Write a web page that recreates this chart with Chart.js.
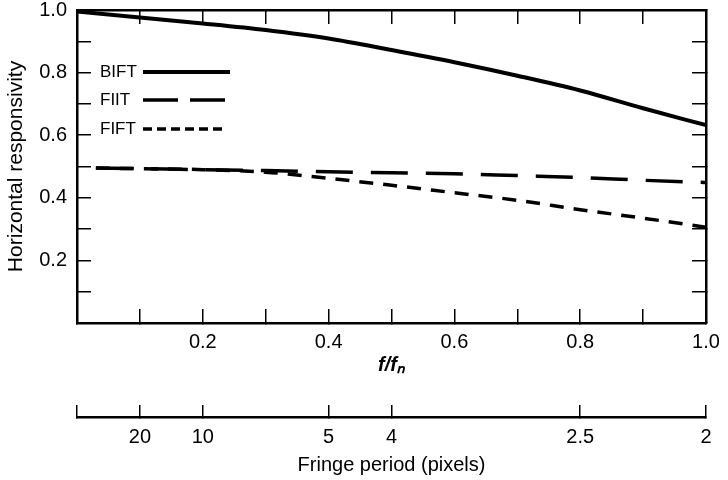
<!DOCTYPE html>
<html>
<head>
<meta charset="utf-8">
<script src="https://cdn.jsdelivr.net/npm/chart.js@4.4.1/dist/chart.umd.min.js"></script>
<style>
  html, body { margin: 0; padding: 0; background: #fff; }
  #wrap { width: 728px; height: 480px; }
</style>
</head>
<body>
<div id="wrap"><canvas id="chart" width="728" height="480"></canvas></div>
<script>
// f/fn values for each curve
const freq = [0, 0.1, 0.2, 0.3, 0.4, 0.5, 0.6, 0.7, 0.8, 0.9, 1.0];
const freqDashed = [0.03, 0.1, 0.2, 0.3, 0.4, 0.5, 0.6, 0.7, 0.8, 0.9, 1.0];

// responsivity
const bift = [0.995, 0.976, 0.957, 0.936, 0.909, 0.872, 0.833, 0.790, 0.743, 0.686, 0.632];
const fiit = [0.495, 0.493, 0.490, 0.487, 0.483, 0.480, 0.477, 0.471, 0.465, 0.456, 0.449];
const fift = [0.495, 0.493, 0.490, 0.482, 0.462, 0.440, 0.416, 0.392, 0.362, 0.335, 0.306];

const seriesLabels = ['BIFT', 'FIIT', 'FIFT'];
const xTickLabels = ['0.2', '0.4', '0.6', '0.8', '1.0'];
const yTickLabels = ['0.2', '0.4', '0.6', '0.8', '1.0'];
const fringePeriods = [20, 10, 5, 4, 2.5, 2];

const FONT = "'Liberation Sans', Arial, Helvetica, sans-serif";
Chart.defaults.font.family = FONT;
Chart.defaults.color = '#000';

function toXY(xs, ys) {
  return xs.map((x, i) => ({ x: x, y: ys[i] }));
}

// text on the left, line sample on the right, inside the plot
const inlineLegend = {
  id: 'inlineLegend',
  afterDatasetsDraw(chart) {
    const ctx = chart.ctx;
    const rows = [72, 100, 129];
    ctx.save();
    ctx.font = '17px ' + FONT;
    ctx.fillStyle = '#000';
    ctx.textBaseline = 'middle';
    chart.data.datasets.forEach((ds, i) => {
      const y = rows[i];
      ctx.fillText(ds.label, 100, y);
      ctx.beginPath();
      ctx.setLineDash(ds.legendDash || []);
      ctx.lineWidth = ds.borderWidth;
      ctx.strokeStyle = '#000';
      ctx.moveTo(143, y);
      ctx.lineTo(i === 2 ? 222 : 230, y);
      ctx.stroke();
    });
    ctx.restore();
  }
};

const tickGrid = {
  drawOnChartArea: false,
  drawTicks: true,
  tickLength: -14,
  color: '#000',
  lineWidth: 1.5
};
const frame = { display: true, color: '#000', width: 2.5 };

new Chart(document.getElementById('chart'), {
  type: 'line',
  data: {
    datasets: [
      {
        label: seriesLabels[0],
        data: toXY(freq, bift),
        borderColor: '#000',
        borderWidth: 4,
        pointRadius: 0,
        cubicInterpolationMode: 'monotone',
        fill: false
      },
      {
        label: seriesLabels[1],
        data: toXY(freqDashed, fiit),
        borderColor: '#000',
        borderWidth: 3.5,
        borderDash: [37, 18],
        legendDash: [35, 12],
        pointRadius: 0,
        cubicInterpolationMode: 'monotone',
        fill: false
      },
      {
        label: seriesLabels[2],
        data: toXY(freqDashed, fift),
        borderColor: '#000',
        borderWidth: 3.5,
        borderDash: [14, 10],
        legendDash: [9, 5],
        pointRadius: 0,
        cubicInterpolationMode: 'monotone',
        fill: false
      }
    ]
  },
  options: {
    responsive: false,
    animation: false,
    devicePixelRatio: 1,
    layout: { padding: 0 },
    plugins: {
      legend: { display: false },
      tooltip: { enabled: false }
    },
    scales: {
      x: {
        type: 'linear',
        position: 'bottom',
        min: 0,
        max: 1,
        ticks: {
          stepSize: 0.1,
          autoSkip: false,
          maxRotation: 0,
          padding: 21,
          font: { size: 20 },
          color: '#000',
          callback: v => {
            const s = v.toFixed(1);
            return xTickLabels.includes(s) ? s : '';
          }
        },
        grid: tickGrid,
        border: frame,
        title: {
          display: true,
          text: 'f/fₙ',
          color: '#000',
          font: { size: 20, style: 'italic', weight: 'bold' },
          padding: { top: 0, bottom: 40 }
        },
        afterFit: s => { s.height = 94; s.paddingLeft = 0; s.paddingRight = 0; }
      },
      x2: {
        type: 'linear',
        position: 'bottom',
        min: 0,
        max: 1,
        afterBuildTicks: s => {
          s.ticks = [0].concat(fringePeriods.map(p => 2 / p)).map(v => ({ value: v }));
        },
        ticks: {
          autoSkip: false,
          maxRotation: 0,
          padding: 20,
          font: { size: 20 },
          color: '#000',
          callback: (v, i) => i === 0 ? '' : String(fringePeriods[i - 1])
        },
        grid: Object.assign({}, tickGrid, { tickLength: -12 }),
        border: frame,
        title: {
          display: true,
          text: 'Fringe period (pixels)',
          color: '#000',
          font: { size: 20 },
          padding: { top: 0, bottom: 3 }
        },
        afterFit: s => { s.height = 63; s.paddingLeft = 0; s.paddingRight = 0; }
      },
      xTop: {
        type: 'linear',
        position: 'top',
        min: 0,
        max: 1,
        ticks: { display: false, stepSize: 0.1 },
        grid: tickGrid,
        border: frame,
        afterFit: s => { s.height = 10; }
      },
      y: {
        type: 'linear',
        position: 'left',
        min: 0,
        max: 1,
        ticks: {
          stepSize: 0.1,
          autoSkip: false,
          padding: 24,
          font: { size: 20 },
          color: '#000',
          callback: v => {
            const s = v.toFixed(1);
            return yTickLabels.includes(s) ? s : '';
          }
        },
        grid: tickGrid,
        border: frame,
        title: {
          display: true,
          text: 'Horizontal responsivity',
          color: '#000',
          font: { size: 21 },
          padding: { top: 4, bottom: 0 }
        },
        afterFit: s => { s.width = 77; s.paddingTop = 0; s.paddingBottom = 0; }
      },
      yRight: {
        type: 'linear',
        position: 'right',
        min: 0,
        max: 1,
        ticks: { display: false, stepSize: 0.1 },
        grid: tickGrid,
        border: frame,
        afterFit: s => { s.width = 22; }
      }
    }
  },
  plugins: [inlineLegend]
});
</script>
</body>
</html>
